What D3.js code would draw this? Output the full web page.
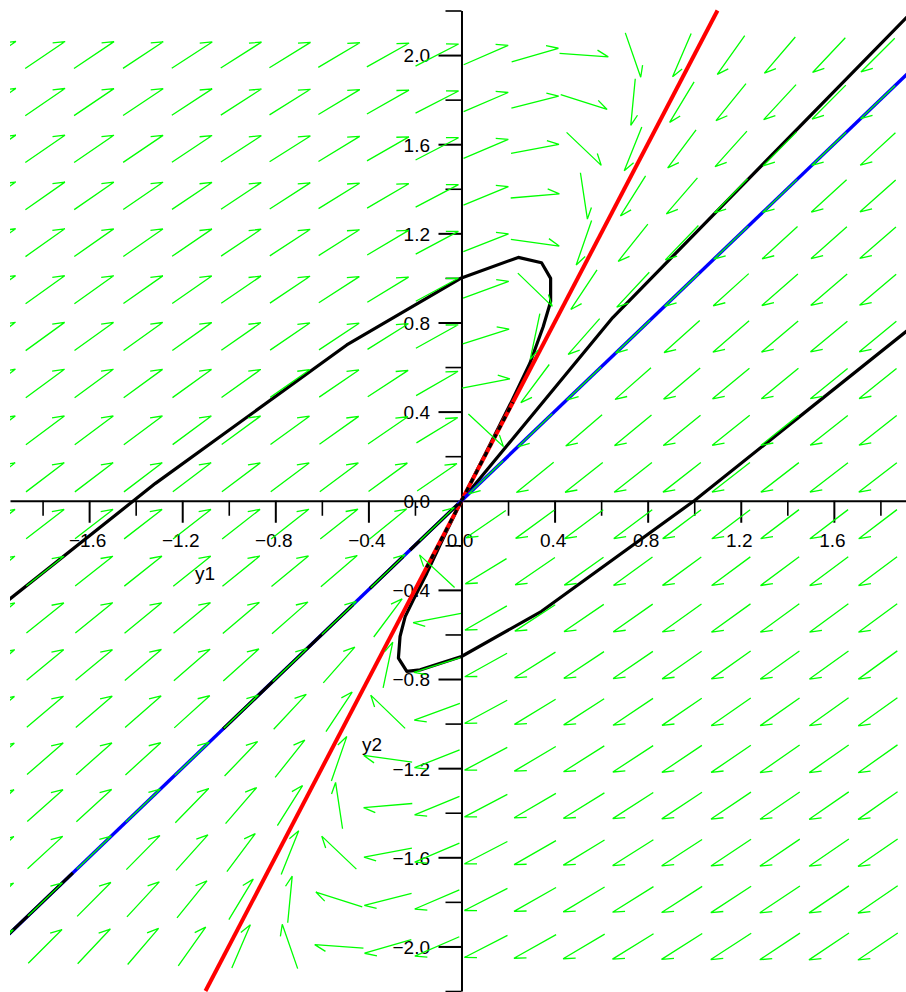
<!DOCTYPE html>
<html>
<head>
<meta charset="utf-8">
<script src="https://cdn.jsdelivr.net/npm/d3@7/dist/d3.min.js"></script>
<style>
  body { margin: 0; background: #fff; }
  text { font-family: "Liberation Sans", Arial, sans-serif; font-size: 19px; fill: #000; }
  .axis path, .axis line { stroke: #000; }
</style>
</head>
<body>
<script>
(function(){

//linear system y' = A y  (eigenvalues -3 along (1,1), -1 along (1,2))
var sysA = [[-5, 2], [-4, 1]];

//direction field grid (20 x 20 over [-2,2])
var gridY1 = [-2, -1.789, -1.579, -1.368, -1.158, -0.947, -0.737, -0.526, -0.316, -0.105,
              0.105, 0.316, 0.526, 0.737, 0.947, 1.158, 1.368, 1.579, 1.789, 2];
var gridY2 = [-2, -1.789, -1.579, -1.368, -1.158, -0.947, -0.737, -0.526, -0.316, -0.105,
              0.105, 0.316, 0.526, 0.737, 0.947, 1.158, 1.368, 1.579, 1.789, 2];
var arrowLen = 0.21;

//solution curves [y1, y2]
var curveA = [[-2.0, -0.49], [-1.315, 0.078], [-0.493, 0.699], [0, 1], [0.244, 1.092],
              [0.344, 1.068], [0.383, 0.998], [0.383, 0.893], [0.351, 0.781], [0.294, 0.617],
              [0.215, 0.445], [0.1, 0.205], [0, 0]];
var curveB = [[2.0, 0.834], [1.0, 0], [0.344, -0.496], [0, -0.699], [-0.178, -0.759],
              [-0.235, -0.766], [-0.271, -0.706], [-0.264, -0.609], [-0.242, -0.52],
              [-0.207, -0.445], [-0.149, -0.325], [-0.07, -0.15], [0, 0]];
var curveC = [[2.0, 2.262], [0.65, 0.822], [0, 0]];

//eigenlines y2 = k*y1
var redSlope = 2, blueSlope = 1;
//pieces of the solution on y2 = y1 that show over the blue line (y1 intervals)
var blackOnBlue = [[-2.0, -1.67], [-1.024, -0.466], [-0.393, -0.251], [-0.221, -0.015]];
//pieces where the curves run into the origin over the red line (y1 intervals)
var blackOnRed = [[-0.15, 0], [0, 0.221]];

//axis ticks
var minorTicks = [-2.2, -2.0, -1.8, -1.4, -1.0, -0.6, -0.2, 0.2, 0.6, 1.0, 1.4, 1.8, 2.2];
var xMajorTicks = [-1.6, -1.2, -0.8, -0.4, 0, 0.4, 0.8, 1.2, 1.6];
var xTickLabels = ["\u22121.6", "\u22121.2", "\u22120.8", "\u22120.4", "0.0", "0.4", "0.8", "1.2", "1.6"];
var yMajorTicks = [-2.0, -1.6, -1.2, -0.8, -0.4, 0, 0.4, 0.8, 1.2, 1.6, 2.0];
var yTickLabels = ["\u22122.0", "\u22121.6", "\u22121.2", "\u22120.8", "\u22120.4", "0.0", "0.4", "0.8", "1.2", "1.6", "2.0"];

window.onload = drawPlot();

function drawPlot(){
    var width = 906,
        height = 992;

    var svg = d3.select("body")
      .append("svg")
      .attr("width", width)
      .attr("height", height);

    //visible window of the plot
    var x = d3.scaleLinear().domain([-1.94, 1.91]).range([10, 906]);
    var y = d3.scaleLinear().domain([-2.2, 2.2]).range([991, 10.5]);

    svg.append("defs").append("clipPath")
      .attr("id", "plotClip")
      .append("rect")
      .attr("x", 10).attr("y", 9)
      .attr("width", 896).attr("height", 983);

    drawAxes(svg, x, y);

    var plot = svg.append("g").attr("clip-path", "url(#plotClip)");

    var line = d3.line()
      .x(function(d){ return x(d[0]); })
      .y(function(d){ return y(d[1]); });

    //solution curves
    [curveA, curveB, curveC].forEach(function(c){
      plot.append("path")
        .datum(c)
        .attr("d", line)
        .attr("fill", "none")
        .attr("stroke", "#000")
        .attr("stroke-width", 3.2)
        .attr("stroke-linejoin", "round");
    });

    //eigenlines
    plot.append("path")
      .datum([[-1.1, -2.2], [1.1, 2.2]])
      .attr("d", line)
      .attr("stroke", "#ff0000")
      .attr("stroke-width", 4);

    plot.append("path")
      .datum([[-2.0, -2.0], [2.0, 2.0]])
      .attr("d", line)
      .attr("stroke", "#0000ff")
      .attr("stroke-width", 3.4);

    blackOnBlue.forEach(function(s){
      plot.append("path")
        .datum([[s[0], blueSlope * s[0]], [s[1], blueSlope * s[1]]])
        .attr("d", line)
        .attr("stroke", "#000")
        .attr("stroke-width", 3.2);
    });

    blackOnRed.forEach(function(s){
      plot.append("path")
        .datum([[s[0], redSlope * s[0]], [s[1], redSlope * s[1]]])
        .attr("d", line)
        .attr("stroke", "#000")
        .attr("stroke-width", 3.2)
        .attr("stroke-dasharray", "5,5");
    });

    drawField(plot, x, y);

    //axis titles
    svg.append("text").attr("x", 195).attr("y", 580).text("y1");
    svg.append("text").attr("x", 362).attr("y", 751).text("y2");
};

function drawAxes(svg, x, y){
  //horizontal axis through y2 = 0
  var gx = svg.append("g").attr("class", "axis")
    .attr("transform", "translate(0," + y(0) + ")");

  gx.call(d3.axisBottom(x).tickValues(minorTicks).tickSize(15).tickSizeOuter(0).tickFormat(""))
    .selectAll("line").attr("stroke-width", 1.6);
  gx.select(".domain").attr("stroke-width", 2);

  var gx2 = svg.append("g").attr("class", "axis")
    .attr("transform", "translate(0," + y(0) + ")")
    .call(d3.axisBottom(x).tickValues(xMajorTicks).tickSize(22).tickSizeOuter(0)
      .tickPadding(10.5)
      .tickFormat(function(d, i){ return xTickLabels[i]; }));
  gx2.select(".domain").remove();
  gx2.selectAll("line").attr("stroke-width", 2)
    .filter(function(d){ return d === 0; }).remove();
  gx2.selectAll("text").attr("dx", -2).style("font-size", "19px")
    .style("font-family", "'Liberation Sans', Arial, sans-serif");

  //vertical axis through y1 = 0
  var gy = svg.append("g").attr("class", "axis")
    .attr("transform", "translate(" + x(0) + ",0)");

  gy.call(d3.axisLeft(y).tickValues(minorTicks).tickSize(16).tickSizeOuter(0).tickFormat(""))
    .selectAll("line").attr("stroke-width", 1.6);
  gy.select(".domain").attr("stroke-width", 2);

  var gy2 = svg.append("g").attr("class", "axis")
    .attr("transform", "translate(" + x(0) + ",0)")
    .call(d3.axisLeft(y).tickValues(yMajorTicks).tickSize(23).tickSizeOuter(0)
      .tickPadding(8.5)
      .tickFormat(function(d, i){ return yTickLabels[i]; }));
  gy2.select(".domain").remove();
  gy2.selectAll("line").attr("stroke-width", 2)
    .filter(function(d){ return d === 0; }).remove();
  gy2.selectAll("text").attr("dy", "0.36em").style("font-size", "19px")
    .style("font-family", "'Liberation Sans', Arial, sans-serif");
};

//direction field: unit arrows centred on the grid, one half barb at the tip
function drawField(plot, x, y){
  var arrows = [];
  gridY1.forEach(function(a){
    gridY2.forEach(function(b){
      var u = sysA[0][0] * a + sysA[0][1] * b,
          v = sysA[1][0] * a + sysA[1][1] * b,
          n = Math.sqrt(u * u + v * v);
      if (n === 0) return;
      var h = arrowLen / 2;
      arrows.push({
        x0: x(a - u / n * h), y0: y(b - v / n * h),
        x1: x(a + u / n * h), y1: y(b + v / n * h)
      });
    });
  });

  var ang = 28 * Math.PI / 180;
  var g = plot.append("g")
    .attr("stroke", "#00ff00")
    .attr("stroke-width", 1.3)
    .attr("fill", "none");

  g.selectAll(".arrow")
    .data(arrows)
    .enter()
    .append("path")
    .attr("class", "arrow")
    .attr("d", function(d){
      var dx = d.x0 - d.x1, dy = d.y0 - d.y1,
          len = Math.sqrt(dx * dx + dy * dy),
          bl = 0.26 * len;
      dx /= len; dy /= len;
      var bx = dx * Math.cos(ang) - dy * Math.sin(ang),
          by = dx * Math.sin(ang) + dy * Math.cos(ang);
      return "M" + d.x0 + "," + d.y0 + "L" + d.x1 + "," + d.y1 +
             "L" + (d.x1 + bx * bl) + "," + (d.y1 + by * bl);
    });
};

})();
</script>
</body>
</html>
